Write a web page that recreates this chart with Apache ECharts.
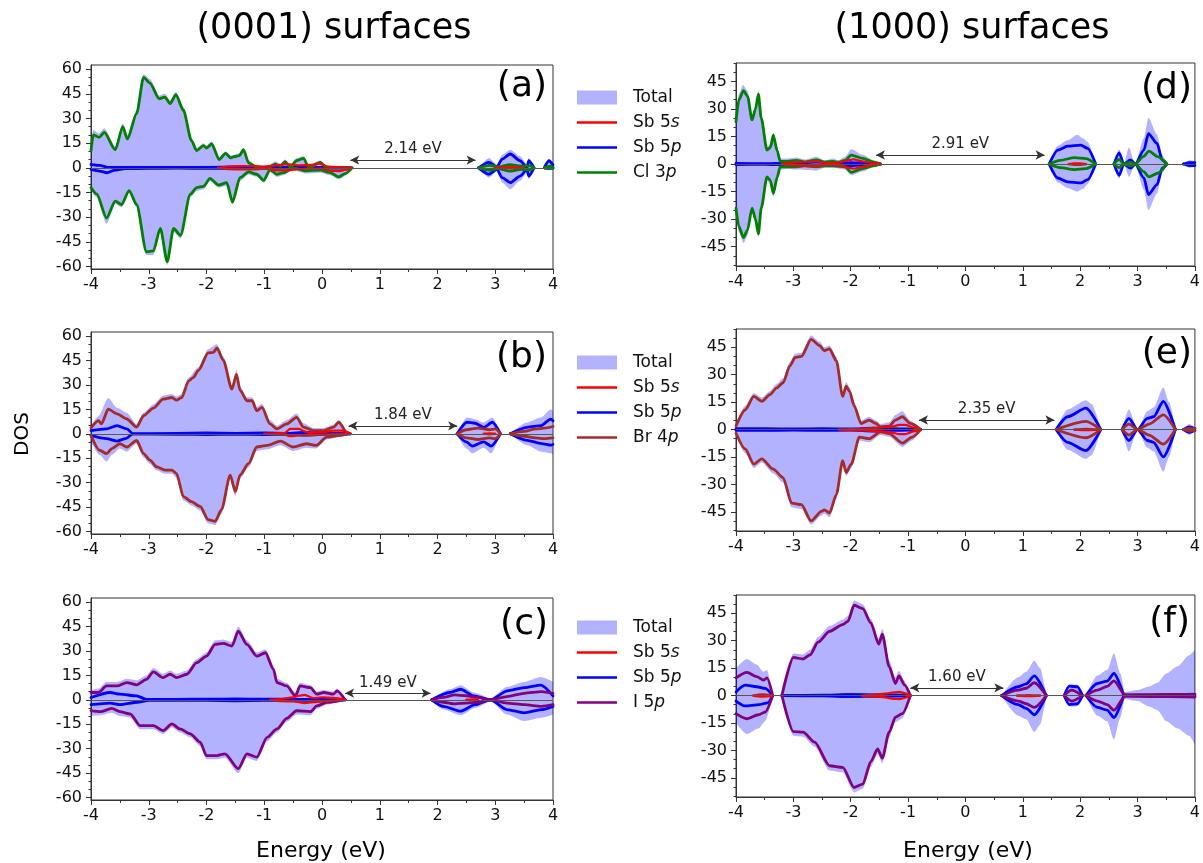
<!DOCTYPE html>
<html><head><meta charset="utf-8">
<script src="https://cdn.jsdelivr.net/npm/echarts@6/dist/echarts.min.js"></script>
<style>html,body{margin:0;padding:0;background:#fff}#c{width:1203px;height:863px}</style>
</head><body><div id="c"></div>
<script>
// ---------- tick labels ----------
const leftMajor = [-60,-45,-30,-15,0,15,30,45,60];
const leftMinor = [-60,-55,-50,-45,-40,-35,-30,-25,-20,-15,-10,-5,0,5,10,15,20,25,30,35,40,45,50,55,60];
const rightMajor = [-45,-30,-15,0,15,30,45];
const rightMinor = [-55,-50,-45,-40,-35,-30,-25,-20,-15,-10,-5,0,5,10,15,20,25,30,35,40,45,50,55];
const gapLabels = ['2.14 eV','1.84 eV','1.49 eV','2.91 eV','2.35 eV','1.60 eV'];
const gapStart = [0.49,0.46,0.40,-1.56,-0.81,-0.96];
const gapEnd = [2.66,2.34,1.88,1.38,1.55,0.66];
const gapY = [4.7,4.9,4.1,4.9,5.2,4.2];
const panelLetters = ['(a)','(b)','(c)','(d)','(e)','(f)'];

// ---------- (a) (0001) Cl ----------
const a_tot_up = [[-4,13],[-3.96,23],[-3.86,21],[-3.77,24],[-3.58,13],[-3.45,27],[-3.37,20],[-3.21,35],[-3.09,57],[-2.98,54],[-2.82,44],[-2.72,45],[-2.63,41],[-2.53,46],[-2.4,37],[-2.26,18],[-2.17,12],[-2.05,15],[-2.0,13.5],[-1.91,16],[-1.78,6.5],[-1.67,10],[-1.58,7.5],[-1.52,8],[-1.43,9],[-1.36,12],[-1.27,4.5],[-1.13,1.5],[-0.9,2],[-0.81,4],[-0.72,2.5],[-0.64,5],[-0.55,2],[-0.44,6],[-0.32,7],[-0.23,1.5],[-0.03,4.5],[0.08,1],[0.3,0.5],[0.5,0],null,[2.72,0],[2.89,6],[3.03,2],[3.12,8],[3.26,11],[3.43,7],[3.55,2],[3.58,6],[3.67,0],null,[3.85,0],[3.93,5.5],[4,3]];
const a_tot_dn = [[-4,-14],[-3.9,-18],[-3.73,-34],[-3.58,-22],[-3.47,-24],[-3.34,-15],[-3.21,-24],[-3.04,-53],[-2.92,-53],[-2.8,-39],[-2.68,-59],[-2.57,-39],[-2.45,-43],[-2.28,-18],[-2.17,-14],[-2.05,-13],[-1.94,-8],[-1.79,-12],[-1.65,-11],[-1.55,-22],[-1.42,-8],[-1.27,-4],[-1.13,-5.5],[-1.01,-9],[-0.9,-2.5],[-0.78,-5.5],[-0.67,-4.5],[-0.5,-1.5],[-0.27,-3.5],[-0.03,-3],[0.14,-4.5],[0.29,-7],[0.4,-5],[0.52,0],null,[2.72,0],[2.89,-6],[3.03,-2],[3.12,-9],[3.26,-13],[3.43,-8],[3.55,-3],[3.58,-7],[3.67,0],null,[3.85,0],[3.93,-1.5],[4,-1]];
const a_sbs_up = [[-1.8,0],[-1.6,0.8],[-1.4,1],[-1.2,1.2],[-1.0,0.5],[-0.8,1.5],[-0.6,2.2],[-0.4,1.5],[-0.2,1.8],[-0.05,2.5],[0.1,0.8],[0.3,0.3],[0.5,0],null,[3.0,0],[3.25,0.4],[3.5,0]];
const a_sbs_dn = [[-1.8,0],[-1.6,-0.8],[-1.4,-1],[-1.2,-1],[-1.0,-0.5],[-0.8,-1.5],[-0.6,-1.5],[-0.4,-0.8],[-0.2,-0.5],[0,-0.5],[0.15,-1.8],[0.3,-2],[0.45,-1],[0.52,0],null,[3.0,0],[3.25,-0.4],[3.5,0]];
const a_sbp_up = [[-4,2],[-3.85,1.5],[-3.7,0.3],[-3.5,0.2],[-3,0.3],[-2.5,0.2],[-2,0.3],[-1.5,0.5],[-1.2,0.3],[-1,0.2],[-0.5,0.2],[0,0.2],[0.5,0],null,[2.71,0],[2.89,3.3],[3.03,0.6],[3.12,5.3],[3.26,8.4],[3.43,4.3],[3.55,0.2],[3.58,4.3],[3.67,0],null,[3.85,0],[3.93,4.3],[4,1.8]];
const a_sbp_dn = [[-4,-1],[-3.85,-2],[-3.72,-3],[-3.6,-1.5],[-3.4,-0.5],[-3,-0.3],[-2.5,-0.2],[-2,-0.3],[-1.5,-0.4],[-1,-0.2],[-0.5,-0.2],[0,-0.2],[0.5,0],null,[2.71,0],[2.89,-3.9],[3.03,-1],[3.12,-6],[3.26,-9],[3.43,-5],[3.55,-1],[3.58,-5],[3.67,0],null,[3.85,0],[3.93,-0.3],[4,-0.2]];
const a_cl_up = [[-4,10.5],[-3.96,20],[-3.86,18.5],[-3.77,21.5],[-3.58,11],[-3.45,25],[-3.37,17.5],[-3.21,33],[-3.09,55],[-2.98,51.5],[-2.82,42],[-2.72,43],[-2.63,39],[-2.53,44.5],[-2.4,35],[-2.26,16.5],[-2.17,10.5],[-2.05,13.5],[-2.0,12],[-1.91,14.5],[-1.78,5],[-1.67,8.8],[-1.58,6],[-1.52,6.8],[-1.43,7.4],[-1.36,11],[-1.27,3],[-1.13,0.2],[-0.9,0.6],[-0.81,2.3],[-0.72,1],[-0.64,3.7],[-0.55,0.6],[-0.44,4.3],[-0.32,5.8],[-0.23,0.2],[-0.03,3.3],[0.08,0],[0.52,0],null,[2.72,0],[2.9,1.5],[3.05,0.5],[3.25,2],[3.45,1],[3.6,1.2],[3.67,0],null,[3.85,0],[3.95,1],[4,0.5]];
const a_cl_dn = [[-4,-12],[-3.9,-16],[-3.73,-30.5],[-3.58,-20.3],[-3.47,-22.4],[-3.34,-13.8],[-3.21,-22.4],[-3.04,-51],[-2.92,-50.5],[-2.8,-36.8],[-2.68,-57],[-2.57,-36.8],[-2.45,-41],[-2.28,-16],[-2.17,-12],[-2.05,-11.3],[-1.94,-6.4],[-1.79,-10.5],[-1.65,-9],[-1.55,-20.8],[-1.42,-6],[-1.27,-2.5],[-1.13,-3.9],[-1.01,-7.6],[-0.9,-1.2],[-0.78,-3.9],[-0.67,-2.9],[-0.5,0],[-0.27,-1.8],[-0.03,-1.4],[0.14,-2.9],[0.29,-5.5],[0.4,-3.5],[0.52,0],null,[2.72,0],[2.9,-1.5],[3.05,-0.5],[3.25,-2],[3.45,-1],[3.6,-1.2],[3.67,0],null,[3.85,0],[3.95,-0.3],[4,-0.2]];

// ---------- (b) (0001) Br ----------
const b_tot_up = [[-4,5],[-3.87,11],[-3.7,22],[-3.55,16],[-3.38,13],[-3.21,6],[-3.09,13],[-2.92,18],[-2.75,23.5],[-2.6,24.5],[-2.52,23],[-2.43,24.5],[-2.31,34.5],[-2.14,41],[-1.97,52],[-1.82,55],[-1.71,47.5],[-1.56,30],[-1.48,39],[-1.42,29],[-1.3,22.5],[-1.21,22.5],[-1.13,16.5],[-1.04,18.5],[-0.9,8.5],[-0.78,5],[-0.61,8.5],[-0.44,12.5],[-0.32,6.5],[-0.15,3.5],[0.03,3.5],[0.2,5.5],[0.29,8.5],[0.43,2],[0.49,0],null,[2.34,0],[2.51,10],[2.65,9],[2.8,7],[2.95,10],[3.09,0],null,[3.26,0],[3.55,7],[3.79,10],[3.96,15],[4,14]];
const b_tot_dn = [[-4,-5],[-3.85,-13],[-3.73,-17],[-3.64,-13],[-3.5,-9],[-3.38,-11],[-3.21,-6],[-3.09,-14.5],[-2.98,-18.5],[-2.86,-22.5],[-2.72,-24.5],[-2.6,-24.5],[-2.52,-27],[-2.4,-41],[-2.26,-44],[-2.11,-47],[-1.97,-55],[-1.85,-56],[-1.74,-49],[-1.59,-27.5],[-1.5,-38],[-1.42,-27.5],[-1.27,-20.5],[-1.13,-10.5],[-0.95,-9.5],[-0.72,-7],[-0.5,-10.5],[-0.27,-8.5],[-0.1,-9],[0.08,-3.5],[0.31,-2],[0.43,-0.5],[0.49,0],null,[2.34,0],[2.5,-9],[2.6,-12],[2.8,-8.5],[2.93,-12],[3.09,0],null,[3.26,0],[3.55,-7],[3.8,-11],[3.97,-12],[4,-13]];
const b_sbs_up = [[-1.0,0],[-0.8,0.3],[-0.65,0.5],[-0.55,3],[-0.4,3],[-0.3,1.5],[-0.2,0.5],[0,1],[0.2,2],[0.35,2],[0.45,0.5],[0.49,0],null,[2.8,0],[2.9,0.3],[3.0,0]];
const b_sbs_dn = [[-1.0,0],[-0.8,-0.3],[-0.65,-0.5],[-0.55,-1.5],[-0.4,-1],[-0.25,-1],[-0.1,-0.8],[0.1,-0.3],[0.3,-0.2],[0.49,0],null,[2.8,0],[2.9,-0.3],[3.0,0]];
const b_sbp_up = [[-4,2],[-3.73,3],[-3.55,5],[-3.38,3],[-3.27,0],[-2.5,0.3],[-2,0.5],[-1.5,0.3],[-1.0,0.5],[-0.6,0.3],[-0.3,0.8],[0,0.3],[0.3,0.2],[0.49,0],null,[2.34,0],[2.51,7.1],[2.65,6.5],[2.8,4],[2.95,7.1],[3.09,0],null,[3.26,0],[3.55,4],[3.79,5],[3.96,9],[4,8]];
const b_sbp_dn = [[-4,-1],[-3.73,-3],[-3.55,-4.5],[-3.4,-3],[-3.27,0],[-2.5,-0.3],[-2,-0.5],[-1.5,-0.3],[-1,-0.5],[-0.6,-0.3],[-0.3,-0.8],[0,-0.3],[0.3,-0.2],[0.49,0],null,[2.34,0],[2.5,-5],[2.6,-7.5],[2.8,-5],[2.93,-7.5],[3.09,0],null,[3.26,0],[3.55,-4],[3.8,-6],[3.97,-7],[4,-6.5]];
const b_br_up = [[-4,3.6],[-3.87,8.1],[-3.82,6.1],[-3.7,15.2],[-3.55,12.2],[-3.38,9.1],[-3.21,4.1],[-3.09,11.1],[-2.92,15.8],[-2.75,21.3],[-2.6,22.3],[-2.52,20.7],[-2.43,22.3],[-2.31,32.4],[-2.23,34.5],[-2.14,38.9],[-1.97,49.7],[-1.88,50],[-1.82,52.7],[-1.71,45.2],[-1.56,27.4],[-1.48,36.5],[-1.42,26.8],[-1.3,20.3],[-1.21,20.3],[-1.13,14.2],[-1.04,16.2],[-0.9,6.1],[-0.78,3],[-0.61,6.1],[-0.44,10.1],[-0.32,4.1],[-0.15,2],[0.03,2],[0.2,4.1],[0.29,7.1],[0.43,1],[0.49,0],null,[2.34,0],[2.5,2.5],[2.7,3.5],[2.9,2.5],[3.0,3],[3.09,0],null,[3.26,0],[3.5,1.5],[3.7,3],[3.85,3.5],[4,4.5]];
const b_br_dn = [[-4,-1],[-3.85,-10.1],[-3.73,-12.2],[-3.64,-9.1],[-3.5,-6.1],[-3.38,-8.1],[-3.21,-4.1],[-3.09,-12.2],[-2.98,-16.2],[-2.86,-20.3],[-2.72,-22.3],[-2.6,-22.3],[-2.52,-24.3],[-2.4,-38.5],[-2.26,-41.6],[-2.11,-44.6],[-1.97,-52.7],[-1.85,-53.7],[-1.74,-46.6],[-1.59,-25.3],[-1.5,-35.5],[-1.42,-25.3],[-1.27,-18.2],[-1.13,-8.1],[-0.95,-7.1],[-0.72,-4.5],[-0.5,-8.1],[-0.27,-6.1],[-0.1,-7.1],[0.08,-2],[0.31,-1],[0.43,0],null,[2.34,0],[2.5,-2.5],[2.7,-3.5],[2.9,-2.5],[3.0,-3],[3.09,0],null,[3.26,0],[3.5,-1.5],[3.7,-2.5],[3.85,-3],[4,-2.5]];

// ---------- (c) (0001) I ----------
const c_tot_up = [[-4,6],[-3.87,7],[-3.73,11],[-3.55,11],[-3.38,13],[-3.21,12],[-3.04,15],[-2.92,19.5],[-2.75,16],[-2.63,18],[-2.52,16],[-2.34,18],[-2.17,25],[-2.0,29],[-1.85,36.5],[-1.71,37],[-1.56,35.5],[-1.45,45],[-1.3,36.5],[-1.13,29],[-0.98,31],[-0.84,21],[-0.78,13],[-0.61,10.5],[-0.46,4.5],[-0.38,10.5],[-0.2,9],[-0.09,5],[0.03,6],[0.2,5],[0.26,7],[0.4,0],null,[1.9,0],[2.21,6.5],[2.4,9],[2.63,4.5],[2.92,1],[3.21,8],[3.5,11],[3.79,14],[4,11]];
const c_tot_dn = [[-4,-10],[-3.84,-9.5],[-3.64,-8],[-3.5,-10],[-3.32,-11],[-3.15,-18],[-2.92,-18],[-2.75,-21],[-2.6,-17],[-2.46,-20],[-2.28,-23],[-2.11,-28.5],[-2.0,-36.5],[-1.82,-36.5],[-1.68,-35.5],[-1.45,-45],[-1.3,-35.5],[-1.13,-37.5],[-0.95,-25.5],[-0.78,-20],[-0.61,-13.5],[-0.44,-9],[-0.2,-9.5],[-0.09,-5.5],[0.08,-3],[0.37,0],null,[1.9,0],[2.1,-6],[2.4,-9.5],[2.65,-5],[2.92,-1],[3.2,-9],[3.5,-13],[3.8,-11],[4,-9]];
const c_sbs_up = [[-0.9,0],[-0.7,0.5],[-0.5,1.5],[-0.4,2.5],[-0.3,3],[-0.15,1],[0,1.5],[0.2,1.2],[0.35,0.5],[0.4,0],null,[2.5,0],[2.6,0.3],[2.7,0]];
const c_sbs_dn = [[-0.9,0],[-0.7,-0.8],[-0.5,-1],[-0.3,-2],[-0.15,-1.5],[0,-1],[0.2,-0.5],[0.4,0],null,[2.5,0],[2.6,-0.3],[2.7,0]];
const c_sbp_up = [[-4,1.4],[-3.67,4.5],[-3.5,3.5],[-3.21,2.4],[-3.04,0.3],[-2.5,0.3],[-2,0.4],[-1.5,0.5],[-1,0.4],[-0.5,0.3],[0,0.3],[0.4,0],null,[1.9,0],[2.21,4.5],[2.4,6.5],[2.63,2.4],[2.92,0],[3.21,5.5],[3.5,7.5],[3.79,9],[4,2.4]];
const c_sbp_dn = [[-4,-3],[-3.67,-2],[-3.5,-3],[-3.2,-1.5],[-3.0,-0.3],[-2.5,-0.3],[-2,-0.4],[-1.5,-0.6],[-1,-0.4],[-0.5,-0.3],[0,-0.3],[0.4,0],null,[1.9,0],[2.1,-4],[2.4,-7],[2.65,-3],[2.92,0],[3.2,-6],[3.5,-8],[3.8,-6],[4,-4]];
const c_i_up = [[-4,4.5],[-3.87,4.5],[-3.73,8.5],[-3.55,8.5],[-3.38,10.6],[-3.21,9.2],[-3.04,12.6],[-2.92,17.1],[-2.75,13.6],[-2.63,15.7],[-2.52,13.6],[-2.34,15.7],[-2.17,22.8],[-2.0,26.8],[-1.85,34],[-1.71,34.6],[-1.56,33],[-1.45,42.1],[-1.3,34],[-1.13,26.8],[-0.98,28.9],[-0.84,18.7],[-0.78,10.6],[-0.61,8.5],[-0.46,2.4],[-0.38,8.5],[-0.2,7.5],[-0.09,3.5],[0.03,4.5],[0.2,3.5],[0.26,5.5],[0.4,0],null,[1.9,0],[2.1,1.5],[2.3,3],[2.5,2.5],[2.7,1.5],[2.92,0],[3.2,2],[3.5,4],[3.8,5],[4,4]];
const c_i_dn = [[-4,-6.7],[-3.84,-7.3],[-3.64,-5.3],[-3.5,-7.3],[-3.32,-8.7],[-3.15,-15.9],[-2.92,-15.9],[-2.75,-18.9],[-2.6,-14.8],[-2.46,-17.9],[-2.28,-20.9],[-2.11,-26],[-2.0,-34.2],[-1.82,-34.2],[-1.68,-33.2],[-1.45,-42.3],[-1.3,-33.2],[-1.13,-35.2],[-0.95,-23],[-0.78,-17.9],[-0.61,-11.4],[-0.44,-6.7],[-0.2,-7.3],[-0.09,-3.7],[0.08,-1.6],[0.37,0],null,[1.9,0],[2.1,-1.5],[2.3,-2.5],[2.5,-2],[2.7,-1.5],[2.92,0],[3.2,-2],[3.5,-3],[3.8,-4],[4,-3]];

// ---------- (d) (1000) Cl ----------
const d_tot_up = [[-4,25],[-3.95,38],[-3.88,43],[-3.8,40],[-3.72,26],[-3.66,32],[-3.61,40],[-3.56,27],[-3.46,9],[-3.4,11],[-3.35,17],[-3.28,9],[-3.23,3],[-3.1,3],[-2.95,3.5],[-2.8,2.5],[-2.6,4],[-2.45,2],[-2.31,3],[-2.22,2],[-2.1,4],[-1.99,8],[-1.79,5],[-1.6,2],[-1.48,0],null,[1.46,0],[1.61,10],[1.78,13],[1.95,16],[2.05,14],[2.13,12],[2.27,0],null,[2.59,0],[2.68,8],[2.76,0],[2.85,9],[2.96,0],[3.11,14],[3.19,25],[3.34,16],[3.43,5],[3.51,0],null,[3.8,0],[3.9,2],[4,1.5]];
const d_tot_dn = [[-4,-26],[-3.95,-37],[-3.87,-43],[-3.8,-39],[-3.72,-26],[-3.66,-32],[-3.61,-40],[-3.56,-26],[-3.46,-9],[-3.4,-11],[-3.35,-18],[-3.28,-9],[-3.23,-3],[-3.1,-2.5],[-2.95,-3],[-2.6,-3.5],[-2.45,-2],[-2.31,-2],[-2.1,-3],[-1.99,-6],[-1.79,-4],[-1.6,-1.5],[-1.48,0],null,[1.46,0],[1.61,-10],[1.78,-13],[1.95,-15],[2.05,-13.5],[2.13,-11],[2.27,0],null,[2.59,0],[2.68,-8],[2.76,0],[2.85,-7],[2.96,0],[3.11,-14],[3.19,-25],[3.34,-16],[3.43,-5],[3.51,0],null,[3.8,0],[3.9,-2],[4,-1.5]];
const d_sbs_up = [[-3.2,0],[-3.0,0.8],[-2.8,1],[-2.6,1.5],[-2.4,0.5],[-2.2,0.8],[-2.05,2],[-1.95,2.5],[-1.8,1.5],[-1.6,0.5],[-1.48,0],null,[1.8,0],[1.9,0.4],[2.0,0.4],[2.1,0]];
const d_sbs_dn = [[-3.2,0],[-3.0,-0.8],[-2.8,-1],[-2.6,-1.2],[-2.4,-0.5],[-2.2,-0.8],[-2.05,-2],[-1.95,-2.5],[-1.8,-1.5],[-1.6,-0.5],[-1.48,0],null,[1.8,0],[1.9,-0.4],[2.0,-0.4],[2.1,0]];
const d_sbp_up = [[-4,0.3],[-3.5,0.2],[-3.1,0.5],[-2.8,0.8],[-2.6,1],[-2.3,0.5],[-2.0,0.8],[-1.8,0.5],[-1.48,0],null,[1.46,0],[1.61,7.6],[1.78,9.7],[2.01,10.3],[2.13,8.5],[2.27,0],null,[2.59,0],[2.68,6.1],[2.76,0],[2.88,2.2],[2.96,0],[3.11,7.6],[3.19,16.6],[3.34,11.2],[3.43,2.2],[3.51,0],null,[3.8,0],[3.9,0.8],[4,0.8]];
const d_sbp_dn = [[-4,-0.3],[-3.5,-0.2],[-3.1,-0.5],[-2.8,-0.8],[-2.6,-1],[-2.3,-0.5],[-2.0,-0.8],[-1.8,-0.5],[-1.48,0],null,[1.46,0],[1.61,-7.6],[1.78,-9.7],[2.01,-10.3],[2.13,-8.5],[2.27,0],null,[2.59,0],[2.68,-6.1],[2.76,0],[2.88,-2.2],[2.96,0],[3.11,-7.6],[3.19,-16.6],[3.34,-11.2],[3.43,-2.2],[3.51,0],null,[3.8,0],[3.9,-0.8],[4,-0.8]];
const d_cl_up = [[-4,23],[-3.95,35],[-3.87,40],[-3.8,37],[-3.72,24],[-3.66,30],[-3.61,38],[-3.56,25],[-3.46,7.6],[-3.4,9],[-3.35,15.7],[-3.28,7],[-3.23,1.5],[-3.1,1.5],[-2.95,2],[-2.8,1.2],[-2.6,2.2],[-2.45,1],[-2.31,1.5],[-2.22,1],[-2.1,2],[-1.99,4.9],[-1.79,3.1],[-1.6,1],[-1.48,0],null,[1.46,0],[1.65,2],[1.9,3.5],[2.1,3],[2.27,0],null,[2.59,0],[2.68,2.5],[2.76,0],[2.88,1],[2.96,0],[3.1,4],[3.2,7],[3.35,4],[3.51,0]];
const d_cl_dn = [[-4,-24],[-3.95,-34],[-3.87,-40],[-3.8,-36],[-3.72,-24],[-3.66,-30],[-3.61,-38],[-3.56,-24],[-3.46,-7],[-3.4,-9],[-3.35,-16],[-3.28,-7],[-3.23,-1.5],[-3.1,-1.5],[-2.95,-1.5],[-2.8,-1],[-2.6,-1.5],[-2.45,-1],[-2.31,-1],[-2.1,-1.5],[-1.99,-4.5],[-1.79,-2.5],[-1.6,-1],[-1.48,0],null,[1.46,0],[1.65,-2],[1.9,-3],[2.1,-2.5],[2.27,0],null,[2.59,0],[2.68,-2],[2.76,0],[2.88,-1],[2.96,0],[3.1,-4],[3.2,-7],[3.35,-5],[3.51,0]];

// ---------- (e) (1000) Br ----------
const e_tot_up = [[-4,3],[-3.84,13],[-3.69,20],[-3.55,17.5],[-3.41,21],[-3.29,25],[-3.18,28],[-3.06,37],[-2.97,41.5],[-2.86,42],[-2.69,51.5],[-2.54,48],[-2.46,45],[-2.37,46],[-2.25,40],[-2.14,20],[-2.08,26],[-2.02,23],[-1.94,15],[-1.82,5],[-1.68,7],[-1.56,5],[-1.48,3],[-1.33,4],[-1.22,8],[-1.1,10],[-0.96,5],[-0.78,0],null,[1.58,0],[1.78,11],[2.1,16],[2.2,14],[2.36,0],null,[2.73,0],[2.85,11],[3.0,0],[3.17,10],[3.28,12],[3.45,23],[3.55,15],[3.66,0],null,[3.8,0],[3.9,3],[4,1]];
const e_tot_dn = [[-4,-3],[-3.84,-13],[-3.69,-21],[-3.55,-18],[-3.35,-24],[-3.18,-29],[-3.03,-42.5],[-2.86,-43.5],[-2.69,-52],[-2.51,-47],[-2.46,-46],[-2.37,-48],[-2.25,-38],[-2.14,-19],[-2.08,-25.5],[-1.99,-21],[-1.85,-6],[-1.68,-7],[-1.48,-3],[-1.33,-4],[-1.1,-9.5],[-0.93,-6],[-0.78,0],null,[1.58,0],[1.78,-11],[2.1,-16],[2.2,-14],[2.36,0],null,[2.73,0],[2.85,-12],[3.0,0],[3.17,-10],[3.28,-12],[3.45,-23],[3.55,-15],[3.66,0],null,[3.8,0],[3.9,-3],[4,-1]];
const e_sbs_up = [[-2.2,0],[-2.0,0.3],[-1.8,0.5],[-1.5,1],[-1.3,1.5],[-1.15,2.5],[-1.05,2.5],[-0.9,1],[-0.78,0],null,[1.9,0],[2.1,0.4],[2.3,0]];
const e_sbs_dn = [[-2.2,0],[-2.0,-0.3],[-1.8,-0.5],[-1.5,-1],[-1.3,-1.5],[-1.15,-2.5],[-1.05,-2.5],[-0.9,-1],[-0.78,0],null,[1.9,0],[2.1,-0.4],[2.3,0]];
const e_sbp_up = [[-4,0.5],[-3.5,0.5],[-3,0.3],[-2.5,0.5],[-2,0.3],[-1.6,0.8],[-1.3,0.5],[-1.0,0.3],[-0.78,0],null,[1.58,0],[1.78,7],[2.1,11.7],[2.36,0],null,[2.73,0],[2.85,6.1],[3.0,0],[3.17,6.1],[3.28,7],[3.45,15.4],[3.66,0],null,[3.8,0],[3.9,1.5],[4,0.5]];
const e_sbp_dn = [[-4,-0.5],[-3.5,-0.5],[-3,-0.3],[-2.5,-0.5],[-2,-0.3],[-1.6,-0.8],[-1.3,-0.5],[-1.0,-0.3],[-0.78,0],null,[1.58,0],[1.78,-7],[2.1,-11.5],[2.36,0],null,[2.73,0],[2.85,-6],[3.0,0],[3.17,-6],[3.28,-7],[3.45,-15],[3.66,0],null,[3.8,0],[3.9,-1.5],[4,-0.5]];
const e_br_up = [[-4,1.9],[-3.84,10.7],[-3.69,18.1],[-3.55,15.4],[-3.41,19.1],[-3.29,22.8],[-3.18,25.6],[-3.06,34.8],[-2.97,39.4],[-2.86,40],[-2.69,49.3],[-2.54,45.9],[-2.46,43.1],[-2.37,44.1],[-2.25,37.6],[-2.14,18.1],[-2.08,23.7],[-2.02,20.9],[-1.94,13],[-1.82,3.3],[-1.68,5.2],[-1.56,3.3],[-1.48,1.5],[-1.33,1.9],[-1.22,5.2],[-1.1,7],[-0.96,3.3],[-0.78,0],null,[1.58,0],[2.1,4.5],[2.36,0],null,[2.73,0],[2.85,3],[3.0,0],[3.2,3],[3.45,8],[3.66,0],null,[3.8,0],[3.9,0.8],[4,0.5]];
const e_br_dn = [[-4,-1.9],[-3.84,-10.6],[-3.69,-18.9],[-3.55,-16.1],[-3.35,-21.7],[-3.18,-26.3],[-3.03,-40.2],[-2.86,-41.1],[-2.69,-50],[-2.51,-44.8],[-2.46,-43.9],[-2.37,-45.7],[-2.25,-35.6],[-2.14,-17],[-2.08,-23.5],[-1.99,-18.9],[-1.85,-4.1],[-1.68,-5],[-1.48,-1.3],[-1.33,-2.2],[-1.1,-7.4],[-0.93,-4.1],[-0.78,0],null,[1.58,0],[2.1,-4.5],[2.36,0],null,[2.73,0],[2.85,-3],[3.0,0],[3.2,-3],[3.45,-8],[3.66,0],null,[3.8,0],[3.9,-0.8],[4,-0.5]];

// ---------- (f) (1000) I ----------
const f_tot_up = [[-4,15],[-3.81,20],[-3.64,17],[-3.52,13],[-3.46,14],[-3.36,0],null,[-3.2,0],[-3.0,23],[-2.83,22.5],[-2.71,25],[-2.57,32],[-2.37,38],[-2.14,41.5],[-2.05,43.5],[-1.94,52],[-1.79,50],[-1.65,42],[-1.51,31],[-1.45,36.5],[-1.33,19],[-1.22,10],[-1.16,13.5],[-1.06,8],[-0.96,0],null,[0.63,0],[0.92,10],[1.06,13],[1.2,19],[1.3,15],[1.41,0],null,[1.72,0],[1.81,6],[1.95,6],[2.04,0],null,[2.1,0],[2.3,11],[2.47,14],[2.59,23],[2.7,12],[2.78,2],[3.0,3],[3.2,5],[3.35,7],[3.5,12],[3.7,16],[3.9,22],[4,25]];
const f_tot_dn = [[-4,-15],[-3.81,-21],[-3.61,-18],[-3.49,-14],[-3.36,0],null,[-3.2,0],[-3.0,-22],[-2.83,-22.5],[-2.63,-28],[-2.37,-41],[-2.14,-42],[-1.94,-53],[-1.79,-51],[-1.65,-39],[-1.53,-32],[-1.45,-37],[-1.33,-23],[-1.22,-14.5],[-1.1,-12.5],[-0.96,0],null,[0.63,0],[0.92,-11],[1.06,-13],[1.2,-20],[1.3,-16],[1.41,0],null,[1.72,0],[1.81,-6],[1.95,-6],[2.04,0],null,[2.1,0],[2.3,-11],[2.47,-14],[2.59,-24],[2.7,-12],[2.78,-2],[3.0,-3],[3.2,-6],[3.35,-8],[3.5,-14],[3.7,-18],[3.9,-22],[4,-27]];
const f_sbs_up = [[-3.7,0],[-3.55,0.6],[-3.4,0.3],[-3.36,0],null,[-1.8,0],[-1.6,0.5],[-1.4,1],[-1.25,1.8],[-1.15,2],[-1.05,1.2],[-0.96,0],null,[0.9,0],[1.1,0.3],[1.3,0]];
const f_sbs_dn = [[-3.7,0],[-3.55,-0.6],[-3.4,-0.3],[-3.36,0],null,[-1.8,0],[-1.6,-0.5],[-1.4,-1],[-1.25,-1.8],[-1.15,-2],[-1.05,-1.2],[-0.96,0],null,[0.9,0],[1.1,-0.3],[1.3,0]];
const f_sbp_up = [[-4,2],[-3.84,5.7],[-3.64,4.8],[-3.49,3.9],[-3.36,0],null,[-3.2,0],[-2.5,0.2],[-2.0,0.6],[-1.5,0.4],[-1.2,0.3],[-0.96,0],null,[0.63,0],[0.92,4.8],[1.06,6.4],[1.2,10.8],[1.41,0],null,[1.72,0],[1.81,5.1],[1.95,4.8],[2.04,0],null,[2.1,0],[2.3,6.6],[2.47,7.9],[2.59,12.1],[2.76,0],null,[2.85,0],[3.5,0.3],[4,0.3]];
const f_sbp_dn = [[-4,-3],[-3.84,-5.7],[-3.6,-5],[-3.45,-4],[-3.36,0],null,[-3.2,0],[-2.5,-0.2],[-2.0,-0.6],[-1.5,-0.4],[-1.2,-0.3],[-0.96,0],null,[0.63,0],[0.92,-5],[1.06,-7],[1.2,-10.5],[1.41,0],null,[1.72,0],[1.81,-5],[1.95,-4.5],[2.04,0],null,[2.1,0],[2.3,-6.5],[2.47,-8],[2.59,-12],[2.76,0],null,[2.85,0],[3.5,-0.3],[4,-0.3]];
const f_i_up = [[-4,9.7],[-3.81,12.7],[-3.64,10.3],[-3.52,8.4],[-3.46,9.7],[-3.36,0],null,[-3.2,0],[-3.0,20.8],[-2.83,20],[-2.71,22.2],[-2.57,29.2],[-2.37,35.1],[-2.14,38.8],[-2.05,40.6],[-1.94,49.4],[-1.79,47.6],[-1.65,39.7],[-1.51,28.1],[-1.45,33.6],[-1.33,15.8],[-1.22,6.6],[-1.16,10.8],[-1.06,5.7],[-0.96,0],null,[0.63,0],[0.92,3],[1.06,4],[1.2,7],[1.41,0],null,[1.72,0],[1.85,3],[2.04,0],null,[2.1,0],[2.3,3],[2.47,5],[2.59,8],[2.78,0.5],[3.0,0.5],[3.5,0.6],[4,0.8]];
const f_i_dn = [[-4,-9.9],[-3.81,-12.7],[-3.61,-10.5],[-3.49,-9],[-3.36,0],null,[-3.2,0],[-3.0,-19.7],[-2.83,-20],[-2.63,-25.5],[-2.37,-38.4],[-2.14,-39.3],[-1.94,-50.3],[-1.79,-48.5],[-1.65,-36.2],[-1.53,-29.2],[-1.45,-34.3],[-1.33,-20],[-1.22,-11.8],[-1.1,-9.9],[-0.96,0],null,[0.63,0],[0.92,-3],[1.06,-4.5],[1.2,-6.5],[1.41,0],null,[1.72,0],[1.85,-3],[2.04,0],null,[2.1,0],[2.3,-3],[2.47,-5],[2.59,-8],[2.78,-0.5],[3.0,-0.5],[3.5,-0.6],[4,-0.8]];

// ---------- styling / layout ----------
const FONT = 'DejaVu Sans';
const C_TOT = '#0000ff', C_S = '#ff0000', C_P = '#0000ff';
const C_CL = '#008000', C_BR = '#a52a2a', C_I = '#800080';
const grids = [
  {left:91, top:65, width:462, height:204},
  {left:91, top:332, width:462, height:202},
  {left:91, top:598, width:462, height:202},
  {left:736, top:63, width:462, height:203},
  {left:736, top:329, width:462, height:202},
  {left:736, top:595, width:462, height:202}
];
const panels = [
  {tot:[a_tot_up,a_tot_dn], s:[a_sbs_up,a_sbs_dn], p:[a_sbp_up,a_sbp_dn], x:[a_cl_up,a_cl_dn], xName:'Cl 3p', xColor:C_CL, left:true},
  {tot:[b_tot_up,b_tot_dn], s:[b_sbs_up,b_sbs_dn], p:[b_sbp_up,b_sbp_dn], x:[b_br_up,b_br_dn], xName:'Br 4p', xColor:C_BR, left:true},
  {tot:[c_tot_up,c_tot_dn], s:[c_sbs_up,c_sbs_dn], p:[c_sbp_up,c_sbp_dn], x:[c_i_up,c_i_dn], xName:'I 5p', xColor:C_I, left:true},
  {tot:[d_tot_up,d_tot_dn], s:[d_sbs_up,d_sbs_dn], p:[d_sbp_up,d_sbp_dn], x:[d_cl_up,d_cl_dn], xName:'Cl 3p', xColor:C_CL, left:false},
  {tot:[e_tot_up,e_tot_dn], s:[e_sbs_up,e_sbs_dn], p:[e_sbp_up,e_sbp_dn], x:[e_br_up,e_br_dn], xName:'Br 4p', xColor:C_BR, left:false},
  {tot:[f_tot_up,f_tot_dn], s:[f_sbs_up,f_sbs_dn], p:[f_sbp_up,f_sbp_dn], x:[f_i_up,f_i_dn], xName:'I 5p', xColor:C_I, left:false}
];

function conv(arr){ return arr.map(p => p === null ? ['-','-'] : p); }
function lineSer(name, data, color, gi, z, width){
  return {type:'line', name, data:conv(data), xAxisIndex:gi, yAxisIndex:gi*2, symbol:'none', smooth:0.25, smoothMonotone:'x',
    z, silent:true, animation:false, color, lineStyle:{width, color, join:'round', cap:'round'}, connectNulls:false};
}
function areaSer(data, gi){
  return {type:'line', name:'Total', data:conv(data), xAxisIndex:gi, yAxisIndex:gi*2, symbol:'none', smooth:0.25, smoothMonotone:'x',
    z:1, silent:true, animation:false, color:C_TOT, lineStyle:{width:0, opacity:0}, areaStyle:{color:C_TOT, opacity:0.3, origin:0}, connectNulls:false};
}

const xAxes = [], yAxes = [], series = [];
panels.forEach((pn, gi) => {
  const ymin = pn.left ? -61.5 : -55.5, ymax = pn.left ? 62.5 : 55;
  const major = pn.left ? leftMajor : rightMajor;
  const minor = pn.left ? leftMinor : rightMinor;
  xAxes.push({gridIndex:gi, type:'value', min:-4, max:4, interval:1,
    axisLine:{show:true, onZero:false, lineStyle:{color:'#333', width:1}},
    axisTick:{show:true, length:5, lineStyle:{color:'#333'}},
    minorTick:{show:true, splitNumber:2, length:3, lineStyle:{color:'#333'}},
    axisLabel:{fontSize:16, fontFamily:FONT, color:'#111', margin:8, showMinLabel:true, showMaxLabel:true},
    splitLine:{show:false}});
  yAxes.push({gridIndex:gi, type:'value', min:ymin, max:ymax, position:'left',
    axisLine:{show:true, onZero:false, lineStyle:{color:'#333', width:1}},
    axisTick:{show:true, length:5, customValues:major, lineStyle:{color:'#333'}},
    axisLabel:{customValues:major, fontSize:16, fontFamily:FONT, color:'#111', margin:9},
    splitLine:{show:false}});
  yAxes.push({gridIndex:gi, type:'value', min:ymin, max:ymax, position:'left', offset:0,
    axisLine:{show:false, onZero:false},
    axisTick:{show:true, length:2.5, customValues:minor, lineStyle:{color:'#333'}},
    axisLabel:{show:false}, splitLine:{show:false}});
  series.push(areaSer(pn.tot[0], gi), areaSer(pn.tot[1], gi));
  series.push(lineSer('Sb 5p', pn.p[0], C_P, gi, 2, 2.8), lineSer('Sb 5p', pn.p[1], C_P, gi, 2, 2.8));
  series.push(lineSer(pn.xName, pn.x[0], pn.xColor, gi, 3, 2.8), lineSer(pn.xName, pn.x[1], pn.xColor, gi, 3, 2.8));
  series.push(lineSer('Sb 5s', pn.s[0], C_S, gi, 4, 2.2), lineSer('Sb 5s', pn.s[1], C_S, gi, 4, 2.2));
  // zero line + gap arrow
  series.push({type:'line', name:'_ann'+gi, data:[], xAxisIndex:gi, yAxisIndex:gi*2, z:10, silent:true, animation:false,
    markLine:{silent:true, animation:false, symbol:['none','none'],
      lineStyle:{color:'#555', width:1, type:'solid'}, label:{show:false},
      emphasis:{disabled:true},
      data:[
        {yAxis:0},
        [{coord:[gapStart[gi], gapY[gi]], symbol:'arrow', symbolSize:[7,9], lineStyle:{color:'#333', width:1, type:'solid'},
          label:{show:true, position:'insideMiddleTop', distance:3, formatter:gapLabels[gi], fontSize:15, fontFamily:FONT, color:'#222'}},
         {coord:[gapEnd[gi], gapY[gi]], symbol:'arrow', symbolSize:[7,9]}]
      ]}});
});

const linePath = 'path://M0,0H40V2.5H0Z';
function legendFor(top, xName, xColor){
  return {orient:'vertical', left:572, top, itemWidth:40, itemHeight:14, itemGap:8, selectedMode:false,
    data:[
      {name:'Total', icon:'rect', itemStyle:{color:'rgba(0,0,255,0.3)', borderWidth:0}},
      {name:'Sb 5s', icon:linePath, itemStyle:{color:C_S, borderWidth:0}},
      {name:'Sb 5p', icon:linePath, itemStyle:{color:C_P, borderWidth:0}},
      {name:xName, icon:linePath, itemStyle:{color:xColor, borderWidth:0}}
    ],
    formatter: n => n.replace(/(\d)([sp])$/, '$1{i|$2}'),
    textStyle:{fontSize:17, fontFamily:FONT, color:'#111', lineHeight:17, padding:[0,0,0,11],
      rich:{i:{fontStyle:'italic', fontSize:17, fontFamily:FONT, color:'#111', lineHeight:17}}}};
}

function txt(x, y, text, size, align, rot){
  return {type:'text', x, y, rotation:rot||0, silent:true,
    style:{text, font:size+'px "'+FONT+'"', fill:'#000', align:align||'center', verticalAlign:'middle'}};
}
const letterX = [547,547,548,1192,1192,1190];
const letterY = [87,358,625,89,354,623];
const graphics = [
  txt(334, 29, '(0001) surfaces', 35),
  txt(972, 29, '(1000) surfaces', 35),
  txt(23, 434, 'DOS', 20, 'center', Math.PI/2),
  txt(321, 851, 'Energy (eV)', 22),
  txt(968, 851, 'Energy (eV)', 22)
];
panelLetters.forEach((l, i) => graphics.push(txt(letterX[i], letterY[i], l, 36, 'right')));

const chart = echarts.init(document.getElementById('c'), null, {renderer:'canvas'});
chart.setOption({
  backgroundColor:'#fff',
  animation:false,
  grid: grids.map(g => Object.assign({show:true, borderColor:'#333', borderWidth:1, backgroundColor:'transparent'}, g)),
  xAxis: xAxes,
  yAxis: yAxes,
  legend: [legendFor(84, 'Cl 3p', C_CL), legendFor(349, 'Br 4p', C_BR), legendFor(614, 'I 5p', C_I)],
  graphic: graphics,
  series
});
</script></body></html>
